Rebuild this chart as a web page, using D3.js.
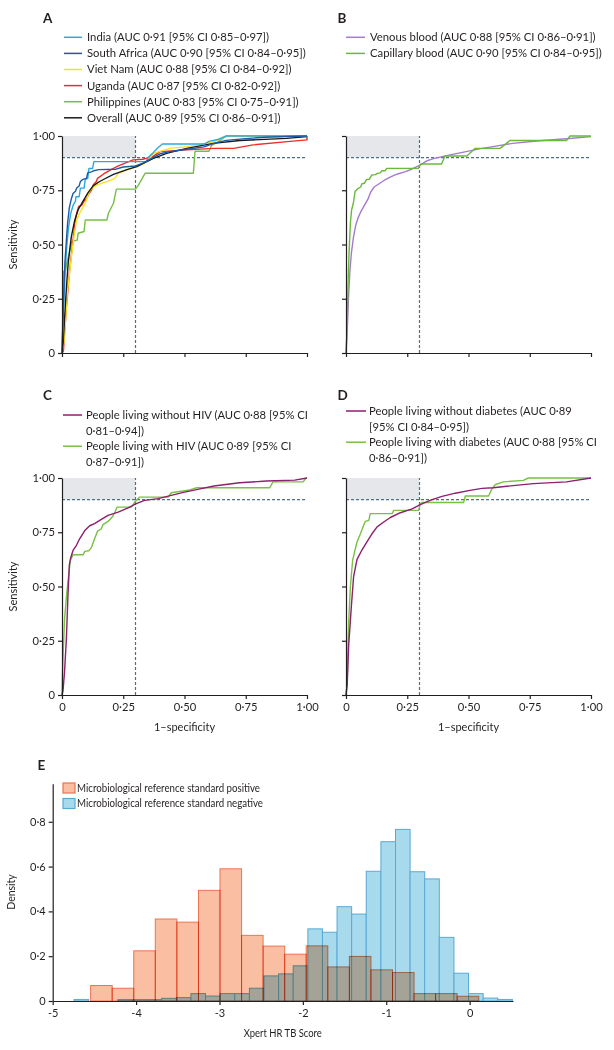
<!DOCTYPE html>
<html><head><meta charset="utf-8">
<script src="https://cdn.jsdelivr.net/npm/d3@7"></script>
<style>
body{margin:0;background:#fff;}
svg text{font-family:Lato,"Open Sans",sans-serif;fill:#231f20;}
</style></head><body><svg id="c" width="614" height="1050"></svg>
<script>
// ---------- DATA ----------
const rocTicks = [0, 0.25, 0.5, 0.75, 1];
const legendA = ["India (AUC 0·91 [95% CI 0·85–0·97])","South Africa (AUC 0·90 [95% CI 0·84–0·95])","Viet Nam (AUC 0·88 [95% CI 0·84–0·92])","Uganda (AUC 0·87 [95% CI 0·82-0·92])","Philippines (AUC 0·83 [95% CI 0·75–0·91])","Overall (AUC 0·89 [95% CI 0·86–0·91])"];
const legendB = ["Venous blood (AUC 0·88 [95% CI 0·86–0·91])","Capillary blood (AUC 0·90 [95% CI 0·84–0·95])"];
const legendC = [["People living without HIV (AUC 0·88 [95% CI","0·81–0·94])"],["People living with HIV (AUC 0·89 [95% CI","0·87–0·91])"]];
const legendD = [["People living without diabetes (AUC 0·89","[95% CI 0·84–0·95])"],["People living with diabetes (AUC 0·88 [95% CI","0·86–0·91])"]];

const rocIndia = [[0,0],[0.003,0.1],[0.008,0.25],[0.014,0.4],[0.02,0.5],[0.027,0.58],[0.035,0.64],[0.045,0.68],[0.055,0.7],[0.057,0.72],[0.07,0.72],[0.075,0.76],[0.09,0.76],[0.095,0.8],[0.105,0.805],[0.11,0.85],[0.125,0.85],[0.13,0.882],[0.345,0.882],[0.35,0.9],[0.37,0.92],[0.39,0.945],[0.41,0.963],[0.58,0.963],[0.6,0.975],[0.64,0.985],[0.67,1],[1,1]];
const rocSouthAfrica = [[0,0],[0.004,0.15],[0.008,0.3],[0.012,0.42],[0.018,0.52],[0.023,0.6],[0.03,0.67],[0.038,0.71],[0.045,0.735],[0.055,0.745],[0.06,0.76],[0.07,0.77],[0.075,0.79],[0.085,0.8],[0.1,0.805],[0.105,0.83],[0.12,0.835],[0.13,0.84],[0.15,0.845],[0.22,0.847],[0.25,0.857],[0.3,0.862],[0.33,0.875],[0.36,0.893],[0.4,0.918],[0.45,0.93],[0.51,0.939],[0.58,0.95],[0.62,0.966],[0.67,0.98],[0.75,0.988],[0.83,0.994],[0.92,0.998],[1,1]];
const rocVietNam = [[0,0],[0.008,0.05],[0.015,0.16],[0.022,0.28],[0.03,0.36],[0.038,0.44],[0.048,0.53],[0.059,0.61],[0.07,0.64],[0.079,0.658],[0.09,0.68],[0.1,0.705],[0.11,0.74],[0.12,0.758],[0.14,0.772],[0.16,0.782],[0.2,0.797],[0.215,0.805],[0.23,0.828],[0.265,0.844],[0.3,0.857],[0.33,0.87],[0.35,0.885],[0.373,0.92],[0.44,0.943],[0.51,0.951],[0.56,0.96],[0.62,0.974],[0.67,0.997],[0.83,1],[1,1]];
const rocUganda = [[0,0],[0.006,0.01],[0.011,0.1],[0.018,0.21],[0.025,0.3],[0.031,0.38],[0.038,0.45],[0.045,0.52],[0.052,0.59],[0.059,0.64],[0.068,0.675],[0.08,0.68],[0.09,0.7],[0.1,0.71],[0.11,0.735],[0.12,0.75],[0.128,0.775],[0.14,0.79],[0.145,0.805],[0.17,0.825],[0.2,0.845],[0.23,0.862],[0.26,0.876],[0.29,0.89],[0.33,0.893],[0.37,0.905],[0.4,0.928],[0.51,0.936],[0.62,0.943],[0.7,0.943],[0.78,0.959],[0.92,0.974],[1,0.982],[1,1]];
const rocPhilippines = [[0,0],[0.002,0.1],[0.005,0.25],[0.007,0.376],[0.015,0.38],[0.02,0.42],[0.03,0.46],[0.04,0.514],[0.062,0.52],[0.066,0.552],[0.09,0.56],[0.095,0.613],[0.183,0.613],[0.19,0.645],[0.21,0.69],[0.222,0.755],[0.3,0.755],[0.31,0.77],[0.339,0.828],[0.536,0.828],[0.543,0.93],[0.6,0.93],[0.61,0.955],[0.64,0.975],[0.672,1],[1,1]];
const rocOverall = [[0,0],[0.005,0.05],[0.011,0.17],[0.018,0.3],[0.025,0.41],[0.032,0.48],[0.038,0.535],[0.052,0.612],[0.066,0.66],[0.086,0.7],[0.107,0.74],[0.127,0.77],[0.15,0.788],[0.175,0.803],[0.21,0.823],[0.265,0.845],[0.305,0.859],[0.34,0.878],[0.373,0.897],[0.427,0.92],[0.509,0.943],[0.617,0.966],[0.726,0.979],[0.916,0.989],[1,0.997]];

const rocVenous = [[0,0],[0.005,0.1],[0.01,0.25],[0.016,0.38],[0.022,0.46],[0.03,0.53],[0.04,0.59],[0.05,0.625],[0.06,0.65],[0.075,0.68],[0.09,0.71],[0.1,0.74],[0.115,0.765],[0.135,0.78],[0.155,0.795],[0.18,0.81],[0.21,0.825],[0.24,0.835],[0.27,0.848],[0.3,0.865],[0.33,0.885],[0.36,0.897],[0.42,0.912],[0.49,0.928],[0.55,0.942],[0.6,0.951],[0.68,0.966],[0.79,0.978],[0.9,0.987],[1,0.997]];
const rocCapillary = [[0,0],[0.004,0.1],[0.008,0.3],[0.012,0.45],[0.018,0.6],[0.023,0.66],[0.03,0.69],[0.037,0.744],[0.05,0.759],[0.06,0.765],[0.065,0.78],[0.075,0.782],[0.084,0.8],[0.095,0.8],[0.105,0.82],[0.12,0.822],[0.128,0.828],[0.14,0.83],[0.146,0.84],[0.16,0.84],[0.166,0.851],[0.295,0.851],[0.305,0.871],[0.39,0.871],[0.404,0.908],[0.493,0.908],[0.51,0.925],[0.527,0.943],[0.629,0.943],[0.669,0.979],[0.9,0.979],[0.914,1],[1,1]];

const rocNoHIV = [[0,0],[0.004,0.02],[0.01,0.1],[0.018,0.26],[0.024,0.45],[0.03,0.6],[0.035,0.63],[0.045,0.666],[0.059,0.69],[0.072,0.72],[0.093,0.758],[0.113,0.78],[0.133,0.79],[0.154,0.805],[0.188,0.828],[0.229,0.843],[0.27,0.862],[0.303,0.882],[0.337,0.897],[0.392,0.905],[0.446,0.92],[0.5,0.935],[0.569,0.951],[0.62,0.963],[0.725,0.978],[0.834,0.986],[0.95,0.99],[1,1]];
const rocHIV = [[0,0],[0.002,0.1],[0.004,0.17],[0.011,0.36],[0.018,0.45],[0.024,0.52],[0.034,0.62],[0.045,0.646],[0.086,0.646],[0.093,0.662],[0.11,0.665],[0.12,0.68],[0.133,0.72],[0.145,0.755],[0.16,0.765],[0.167,0.785],[0.188,0.8],[0.205,0.82],[0.215,0.84],[0.225,0.866],[0.283,0.866],[0.297,0.889],[0.317,0.912],[0.433,0.912],[0.446,0.932],[0.521,0.945],[0.55,0.955],[0.848,0.955],[0.861,0.982],[0.984,0.982],[0.997,1],[1,1]];

const rocNoDiabetes = [[0,0],[0.005,0.05],[0.011,0.23],[0.022,0.41],[0.031,0.545],[0.045,0.625],[0.065,0.668],[0.086,0.707],[0.106,0.743],[0.127,0.775],[0.154,0.797],[0.181,0.818],[0.222,0.84],[0.27,0.858],[0.303,0.877],[0.351,0.9],[0.392,0.915],[0.446,0.93],[0.506,0.943],[0.555,0.952],[0.601,0.955],[0.656,0.962],[0.765,0.974],[0.9,0.982],[1,1]];
const rocDiabetes = [[0,0],[0.004,0.045],[0.011,0.335],[0.018,0.5],[0.027,0.62],[0.035,0.66],[0.045,0.705],[0.059,0.743],[0.072,0.782],[0.079,0.8],[0.093,0.805],[0.099,0.836],[0.188,0.836],[0.195,0.851],[0.297,0.851],[0.303,0.882],[0.31,0.887],[0.48,0.887],[0.487,0.917],[0.582,0.917],[0.596,0.951],[0.61,0.97],[0.642,0.982],[0.724,0.989],[0.744,1],[1,1]];

// Histogram (panel E)
const histXTicks = [-5,-4,-3,-2,-1,0];
const histYTicks = [0,0.2,0.4,0.6,0.8];
const histLegend = ["Microbiological reference standard positive","Microbiological reference standard negative"];
const posEdges = [-4.545,-4.287,-4.028,-3.77,-3.511,-3.252,-2.994,-2.735,-2.477,-2.218,-1.96,-1.701,-1.442,-1.184,-0.925,-0.667,-0.408,-0.15,0.109];
const posDensity = [0.069,0.057,0.224,0.366,0.352,0.494,0.590,0.293,0.245,0.209,0.246,0.152,0.199,0.139,0.127,0.033,0.033,0.021];
const negEdges = [-4.744,-4.569,-4.394,-4.218,-4.043,-3.868,-3.693,-3.517,-3.342,-3.167,-2.992,-2.817,-2.641,-2.466,-2.291,-2.116,-1.94,-1.765,-1.59,-1.415,-1.24,-1.064,-0.889,-0.714,-0.539,-0.364,-0.188,-0.013,0.162,0.337,0.512];
const negDensity = [0.007,0,0,0.006,0.006,0.006,0.012,0.015,0.033,0.022,0.033,0.033,0.057,0.112,0.121,0.157,0.322,0.307,0.421,0.388,0.579,0.711,0.766,0.577,0.545,0.284,0.124,0.033,0.013,0.007];

// ---------- DRAW ----------
const svg = d3.select("#c");
const AX = "#231f20";
const fmtRoc = v => v === 0 ? "0" : d3.format(".2f")(v).replace(".", "·");
const refColor = "#4d7089";

function fitGroup(nodes, refNode, target){
  const fs = parseFloat(refNode.style.fontSize);
  const w = refNode.getComputedTextLength();
  const nfs = fs * target / w;
  nodes.forEach(n => n.style.fontSize = nfs + "px");
}
// condense glyphs horizontally (the original uses a condensed typeface)
function condense(node, target){
  const w = node.getComputedTextLength();
  if (w > target){
    node.setAttribute("textLength", target);
    node.setAttribute("lengthAdjust", "spacingAndGlyphs");
  }
}

function styleAxis(g, fs){
  g.selectAll("path.domain").attr("stroke", AX).attr("stroke-width", 1.2);
  g.selectAll(".tick line").attr("stroke", AX).attr("stroke-width", 1.2);
  g.selectAll(".tick text").attr("fill", AX).style("font-size", (fs||11.2)+"px").style("font-family","Lato,sans-serif");
}

function rocPanel(x0, y0, curves, yLabels, xLabels){
  const x = d3.scaleLinear().domain([0,1]).range([x0, x0+245]);
  const y = d3.scaleLinear().domain([0,1]).range([y0+217, y0]);
  const g = svg.append("g");
  g.append("rect").attr("x", x(0)).attr("y", y(1)).attr("width", x(0.3)-x(0)).attr("height", y(0.9)-y(1)).attr("fill","#e5e7ea");
  g.append("line").attr("x1", x(0.3)).attr("x2", x(0.3)).attr("y1", y(0)).attr("y2", y(1))
    .attr("stroke", refColor).attr("stroke-width",1.2).attr("stroke-dasharray","3,2");
  g.append("line").attr("x1", x(0)).attr("x2", x(1)).attr("y1", y(0.9)).attr("y2", y(0.9))
    .attr("stroke", refColor).attr("stroke-width",1.2).attr("stroke-dasharray","3,2");
  const line = d3.line().x(d=>x(d[0])).y(d=>y(d[1]));
  curves.forEach(c => {
    g.append("path").datum(c.data).attr("d", line).attr("fill","none")
      .attr("stroke", c.color).attr("stroke-width", 1.4).attr("stroke-linejoin","round");
  });
  const ya = g.append("g").attr("transform",`translate(${x0},0)`)
    .call(d3.axisLeft(y).tickValues(rocTicks).tickSize(4).tickSizeOuter(0).tickPadding(3).tickFormat(yLabels ? fmtRoc : ""));
  styleAxis(ya);
  const xa = g.append("g").attr("transform",`translate(0,${y0+217})`)
    .call(d3.axisBottom(x).tickValues(rocTicks).tickSize(4).tickSizeOuter(0).tickPadding(4).tickFormat(xLabels ? fmtRoc : ""));
  styleAxis(xa);
  if (yLabels){
    g.append("text").attr("transform",`translate(${x0-45},${y0+108.5}) rotate(-90)`)
      .attr("text-anchor","middle").style("font-size","11px").text("Sensitivity");
  }
  if (xLabels){
    g.append("text").attr("x", x0+122.5).attr("y", y0+253).attr("text-anchor","middle")
      .style("font-size","11px").text("1–specificity");
  }
}

function panelLetter(t, px, py){
  svg.append("text").attr("x",px).attr("y",py).style("font-size","13.5px").style("font-weight","700").text(t);
}

function simpleLegend(labels, colors, lx, ly, len, target){
  const nodes = [];
  labels.forEach((t,i)=>{
    const yy = ly + i*16.1;
    svg.append("line").attr("x1",lx).attr("x2",lx+len).attr("y1",yy).attr("y2",yy).attr("stroke",colors[i]).attr("stroke-width",1.5);
    nodes.push(svg.append("text").attr("x",lx+len+5).attr("y",yy).attr("dy","0.35em").style("font-size","10.8px").text(t).node());
  });
  fitGroup(nodes, nodes[0], target);
}
function wrapLegend(items, colors, lx, ly, len, gap, step, refIdx, target){
  const nodes = [];
  items.forEach((lines,i)=>{
    const yy = ly + i*step*2;
    svg.append("line").attr("x1",lx).attr("x2",lx+len).attr("y1",yy).attr("y2",yy).attr("stroke",colors[i]).attr("stroke-width",1.5);
    lines.forEach((t,j)=>{
      nodes.push(svg.append("text").attr("x",lx+len+gap).attr("y",yy+j*step).attr("dy","0.35em").style("font-size","10.8px").text(t).node());
    });
  });
  fitGroup(nodes, nodes[refIdx], target);
}

const cIndia="#29a9df", cSA="#1c5aa8", cViet="#ffe21c", cUg="#ee2d24", cPhil="#78be43", cOver="#1a1a1a";
const cVen="#a47bcc", cCap="#6ab93a", cNo="#8c1f6e", cWith="#79c043";

// Panel A
panelLetter("A", 43, 22.5);
simpleLegend(legendA, [cIndia,cSA,cViet,cUg,cPhil,cOver], 64, 37.3, 18, 182);
rocPanel(62, 136, [
  {data:rocPhilippines,color:cPhil},{data:rocUganda,color:cUg},{data:rocVietNam,color:cViet},
  {data:rocOverall,color:cOver},{data:rocIndia,color:cIndia},{data:rocSouthAfrica,color:cSA}], true, false);

// Panel B
panelLetter("B", 337.5, 22.5);
simpleLegend(legendB, [cVen,cCap], 346, 37.3, 19, 226);
rocPanel(346, 136, [{data:rocVenous,color:cVen},{data:rocCapillary,color:cCap}], false, false);

// Panel C
panelLetter("C", 43, 400);
wrapLegend(legendC, [cNo,cWith], 63, 415, 19, 4, 15.6, 0, 222);
rocPanel(62, 478, [{data:rocHIV,color:cWith},{data:rocNoHIV,color:cNo}], true, true);

// Panel D
panelLetter("D", 337.5, 400);
wrapLegend(legendD, [cNo,cWith], 346, 411, 20, 3, 15.6, 2, 228);
rocPanel(346, 478, [{data:rocDiabetes,color:cWith},{data:rocNoDiabetes,color:cNo}], false, true);

// Panel E histogram
panelLetter("E", 37.5, 769.5);
const hx = d3.scaleLinear().domain([-5,0.52]).range([52.7, 513]);
const hy = d3.scaleLinear().domain([0,0.97]).range([1001, 783.7]);
const negBins = negDensity.map((d,i)=>({x0:negEdges[i],x1:negEdges[i+1],d}));
const posBins = posDensity.map((d,i)=>({x0:posEdges[i],x1:posEdges[i+1],d}));
const blueFill="#a8daee", blueStroke="#5aa9d3", orFill="#fabfa2", orStroke="#ec7450";
const hg = svg.append("g");
hg.selectAll("rect.neg").data(negBins).join("rect").attr("class","neg")
  .attr("x",b=>hx(b.x0)).attr("y",b=>hy(b.d)).attr("width",b=>hx(b.x1)-hx(b.x0)).attr("height",b=>hy(0)-hy(b.d))
  .attr("fill",blueFill).attr("stroke",blueStroke).attr("stroke-width",1);
hg.selectAll("rect.pos").data(posBins).join("rect").attr("class","pos")
  .attr("x",b=>hx(b.x0)).attr("y",b=>hy(b.d)).attr("width",b=>hx(b.x1)-hx(b.x0)).attr("height",b=>hy(0)-hy(b.d))
  .attr("fill",orFill).attr("stroke",orStroke).attr("stroke-width",1).style("mix-blend-mode","multiply");
const hya = svg.append("g").attr("transform","translate(52.7,0)")
  .call(d3.axisLeft(hy).tickValues(histYTicks).tickSize(4).tickSizeOuter(0).tickPadding(3)
    .tickFormat(v=>v===0?"0":d3.format(".1f")(v).replace(".","·")));
styleAxis(hya, 11);
const hxa = svg.append("g").attr("transform","translate(0,1001)")
  .call(d3.axisBottom(hx).tickValues(histXTicks).tickSize(4).tickSizeOuter(0).tickPadding(4)
    .tickFormat(v=>v<0?"-"+Math.abs(v):"0"));
styleAxis(hxa, 11);
svg.append("text").attr("transform","translate(15,892) rotate(-90)").attr("text-anchor","middle").style("font-size","10.5px").text("Density");
const xt = svg.append("text").attr("x",282.8).attr("y",1037).attr("text-anchor","middle").style("font-size","10.5px").text("Xpert HR TB Score").node();
condense(xt, 78);
histLegend.forEach((t,i)=>{
  const yy = 783 + i*15.5;
  svg.append("rect").attr("x",63).attr("y",yy).attr("width",12).attr("height",10)
    .attr("fill", i===0?orFill:blueFill).attr("stroke", i===0?orStroke:blueStroke).attr("stroke-width",1.2);
  const n = svg.append("text").attr("x",77).attr("y",yy+5).attr("dy","0.35em").style("font-size","10.5px").text(t).node();
  condense(n, i===0 ? 183 : 186);
});
</script></body></html>
